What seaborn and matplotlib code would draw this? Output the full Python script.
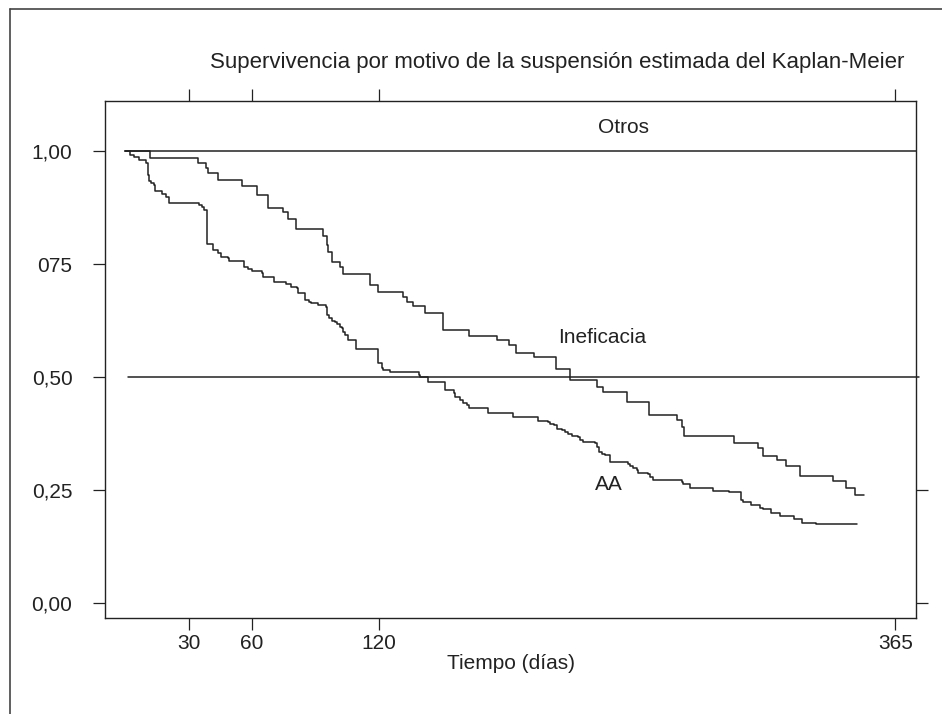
import matplotlib
matplotlib.use("Agg")
import matplotlib.pyplot as plt
import seaborn as sns
from matplotlib.lines import Line2D

# Kaplan-Meier step data (days, survival)
inef_time = [0, 11.6, 34.2, 38.0, 39.0, 43.7, 55.1, 62.2, 67.4, 74.6, 76.9, 80.9,
             93.8, 95.4, 96.2, 98.1, 101.7, 103.0, 116.0, 119.9, 131.8, 133.4,
             136.5, 142.0, 150.4, 163.0, 176.0, 182.0, 185.2, 193.9, 204.2, 210.8,
             223.5, 226.6, 237.7, 248.4, 261.7, 263.8, 264.9, 288.7, 299.8, 302.5,
             308.8, 313.3, 319.9, 335.4, 341.6, 346.0, 350.4]
inef_surv = [1.0, 0.984, 0.973, 0.962, 0.951, 0.936, 0.923, 0.903, 0.875, 0.866, 0.850, 0.827,
             0.812, 0.792, 0.777, 0.755, 0.744, 0.727, 0.704, 0.689, 0.678, 0.667,
             0.657, 0.642, 0.605, 0.591, 0.582, 0.571, 0.554, 0.545, 0.518, 0.493,
             0.479, 0.466, 0.445, 0.416, 0.405, 0.390, 0.370, 0.355, 0.344, 0.326,
             0.316, 0.304, 0.281, 0.270, 0.255, 0.239, 0.239]

aa_time = [0, 2.1, 4.2, 6.4, 9.6, 10.8, 11.1, 12.1, 13.7, 14.0, 17.2, 19.1, 20.8,
           34.9, 36.4, 37.4, 38.5, 41.6, 44.0, 45.3, 48.8, 49.1, 56.3, 58.2, 60.1,
           64.6, 65.4, 70.6, 76.0, 78.5, 81.2, 81.7, 85.1, 87.0, 88.0, 91.5, 95.1,
           95.4, 96.7, 97.8, 99.4, 100.2, 101.7, 102.5, 103.3, 104.1, 105.7, 109.3,
           119.6, 121.5, 122.3, 125.4, 139.3, 139.7, 142.0, 143.6, 151.5, 155.8,
           156.3, 158.6, 160.2, 161.8, 163.1, 172.1, 183.6, 195.8, 200.5, 201.3,
           203.2, 204.5, 206.9, 208.4, 210.0, 211.6, 214.7, 215.5, 217.1, 222.7,
           223.5, 224.7, 225.8, 227.4, 229.8, 238.5, 239.3, 240.5, 242.4, 243.2,
           248.0, 248.8, 250.0, 263.8, 264.3, 267.5, 278.6, 286.2, 292.0, 293.0,
           296.5, 300.8, 302.5, 305.9, 310.3, 317.2, 320.7, 327.4, 346.8]
aa_surv = [1.0, 0.991, 0.986, 0.980, 0.973, 0.947, 0.934, 0.929, 0.925, 0.912, 0.905, 0.898, 0.886,
           0.881, 0.877, 0.869, 0.794, 0.781, 0.774, 0.766, 0.763, 0.757, 0.744, 0.739, 0.735,
           0.731, 0.722, 0.711, 0.705, 0.700, 0.696, 0.685, 0.670, 0.667, 0.663, 0.659, 0.656,
           0.637, 0.630, 0.625, 0.622, 0.617, 0.611, 0.608, 0.600, 0.593, 0.582, 0.561,
           0.530, 0.519, 0.515, 0.512, 0.504, 0.501, 0.499, 0.490, 0.471, 0.464,
           0.456, 0.449, 0.443, 0.438, 0.431, 0.420, 0.411, 0.403, 0.401, 0.396,
           0.394, 0.386, 0.383, 0.379, 0.375, 0.369, 0.367, 0.361, 0.357, 0.355,
           0.346, 0.335, 0.330, 0.327, 0.311, 0.307, 0.303, 0.298, 0.294, 0.288,
           0.285, 0.278, 0.272, 0.268, 0.263, 0.255, 0.248, 0.245, 0.228, 0.223,
           0.218, 0.210, 0.207, 0.200, 0.192, 0.186, 0.178, 0.174, 0.174]

otros_time = [0, 375]
otros_surv = [1.0, 1.0]
median_time = [1, 376.4]
median_surv = [0.5, 0.5]

x_ticks = [30, 60, 120, 365]
x_labels = ['30', '60', '120', '365']
y_ticks = [0.0, 0.25, 0.5, 0.75, 1.0]
y_labels = ['0,00', '0,25', '0,50', '075', '1,00']

sns.set_style('ticks')
plt.rcParams['font.family'] = ['Liberation Sans', 'DejaVu Sans']

INK = '#222222'

fig = plt.figure(figsize=(9.42, 7.14), dpi=100)
ax = fig.add_axes([0.1115, 0.1345, 0.861, 0.724])

for t, s in [(inef_time, inef_surv), (aa_time, aa_surv), (otros_time, otros_surv)]:
    sns.lineplot(x=t, y=s, ax=ax, drawstyle='steps-post', estimator=None,
                 color=INK, linewidth=1.1)
# median reference line pokes slightly past the right frame
sns.lineplot(x=median_time, y=median_surv, ax=ax, estimator=None,
             color=INK, linewidth=1.1, clip_on=False)

ax.set_xlim(-9.7, 374.9)
ax.set_ylim(-0.033, 1.1106)

ax.set_xticks(x_ticks)
ax.set_xticklabels(x_labels)
ax.set_yticks(y_ticks)
ax.set_yticklabels(y_labels)
ax.tick_params(axis='both', direction='out', length=8.5, width=0.9, color=INK,
               labelsize=15, labelcolor=INK)
ax.tick_params(axis='x', top=True, labeltop=False, pad=3)
ax.tick_params(axis='y', pad=15)

# right-hand ticks only on the lower part
rax = ax.secondary_yaxis('right')
rax.set_yticks([0.0, 0.25])
rax.set_yticklabels([])
rax.tick_params(direction='out', length=8.5, width=0.9, color=INK)
rax.spines['right'].set_visible(False)

for sp in ax.spines.values():
    sp.set_color(INK)
    sp.set_linewidth(1.0)

ax.set_xlabel('Tiempo (días)', fontsize=15, color=INK, labelpad=1)
ax.set_ylabel('')

ax.text(236, 1.051, 'Otros', ha='center', va='center', fontsize=15, color=INK)
ax.text(226.2, 0.587, 'Ineficacia', ha='center', va='center', fontsize=15, color=INK)
ax.text(229.3, 0.263, 'AA', ha='center', va='center', fontsize=15, color=INK)

fig.text(0.592, 0.912, 'Supervivencia por motivo de la suspensión estimada del Kaplan-Meier',
         ha='center', va='center', fontsize=16, color=INK)

# outer frame (only top and left edges visible in the crop)
fig.add_artist(Line2D([10 / 942, 1.0], [1 - 9 / 714, 1 - 9 / 714], color='#444444', lw=1.2))
fig.add_artist(Line2D([10 / 942, 10 / 942], [0.0, 1 - 9 / 714], color='#444444', lw=1.2))

fig.savefig('out.png', dpi=100, facecolor='white')
